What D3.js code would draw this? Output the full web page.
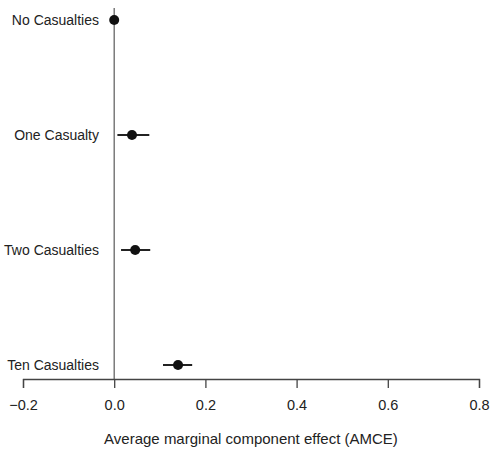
<!DOCTYPE html>
<html lang="en">
<head>
	<meta charset="utf-8">
	<script src="https://d3js.org/d3.v7.min.js"></script>
	<style>
		body { margin: 0; background: #fff; }
		text { font-family: "Liberation Sans", Arial, sans-serif; fill: #222; }
	</style>
</head>
<body>
	<script type="text/javascript">

		var svgWidth = 491;
		var svgHeight = 451;

		// data
		var categories = ["No Casualties", "One Casualty", "Two Casualties", "Ten Casualties"];
		var estimates = [0.0, 0.039, 0.046, 0.14];
		var lowerCI = [null, 0.007, 0.015, 0.107];
		var upperCI = [null, 0.077, 0.079, 0.171];
		var xTicks = [-0.2, 0.0, 0.2, 0.4, 0.6, 0.8];

		var svg = d3.select("body")
			.append("svg")
			.attr("width", svgWidth)
			.attr("height", svgHeight);

		// x scale for AMCE
		var xScale = d3.scaleLinear()
			.domain([-0.2, 0.8])
			.range([23, 479]);

		// y scale for attribute levels
		var yScale = d3.scalePoint()
			.domain(categories)
			.range([20, 365]);

		var axisY = 379;

		// zero reference line
		svg.append("line")
			.attr("x1", xScale(0)).attr("x2", xScale(0))
			.attr("y1", 8).attr("y2", axisY)
			.attr("stroke", "#666")
			.attr("stroke-width", 1.3);

		// x axis
		var xAxis = d3.axisBottom(xScale)
			.tickValues(xTicks)
			.tickSize(9)
			.tickPadding(12)
			.tickFormat(function(d) { return d3.format(".1f")(d).replace("-", "\u2212"); });

		var gx = svg.append("g")
			.attr("transform", "translate(0," + axisY + ")")
			.call(xAxis);
		gx.select(".domain").attr("stroke", "#444").attr("stroke-width", 1.3);
		gx.selectAll(".tick line").attr("stroke", "#444").attr("stroke-width", 1.3);
		gx.selectAll(".tick text")
			.style("font-family", "Liberation Sans, Arial, sans-serif")
			.style("font-size", "14.5px")
			.attr("fill", "#222");

		svg.append("text")
			.attr("x", xScale(0.3))
			.attr("y", 444)
			.attr("text-anchor", "middle")
			.style("font-size", "15px")
			.text("Average marginal component effect (AMCE)");

		// category labels
		svg.selectAll(".cat")
			.data(categories)
			.enter()
			.append("text")
				.attr("class", "cat")
				.attr("x", 99)
				.attr("y", function(d) { return yScale(d); })
				.attr("dy", ".35em")
				.attr("text-anchor", "end")
				.style("font-size", "14px")
				.text(function(d) { return d; });

		// error bars
		svg.selectAll(".ci")
			.data(categories.filter(function(d, i) { return lowerCI[i] !== null; }))
			.enter()
			.append("line")
				.attr("class", "ci")
				.attr("x1", function(d) { return xScale(lowerCI[categories.indexOf(d)]); })
				.attr("x2", function(d) { return xScale(upperCI[categories.indexOf(d)]); })
				.attr("y1", function(d) { return yScale(d); })
				.attr("y2", function(d) { return yScale(d); })
				.attr("stroke", "#222")
				.attr("stroke-width", 2);

		// point estimates
		svg.selectAll(".pt")
			.data(categories)
			.enter()
			.append("circle")
				.attr("class", "pt")
				.attr("cx", function(d, i) { return xScale(estimates[i]); })
				.attr("cy", function(d) { return yScale(d); })
				.attr("r", 5)
				.attr("fill", "#111");

	</script>
</body>
</html>
